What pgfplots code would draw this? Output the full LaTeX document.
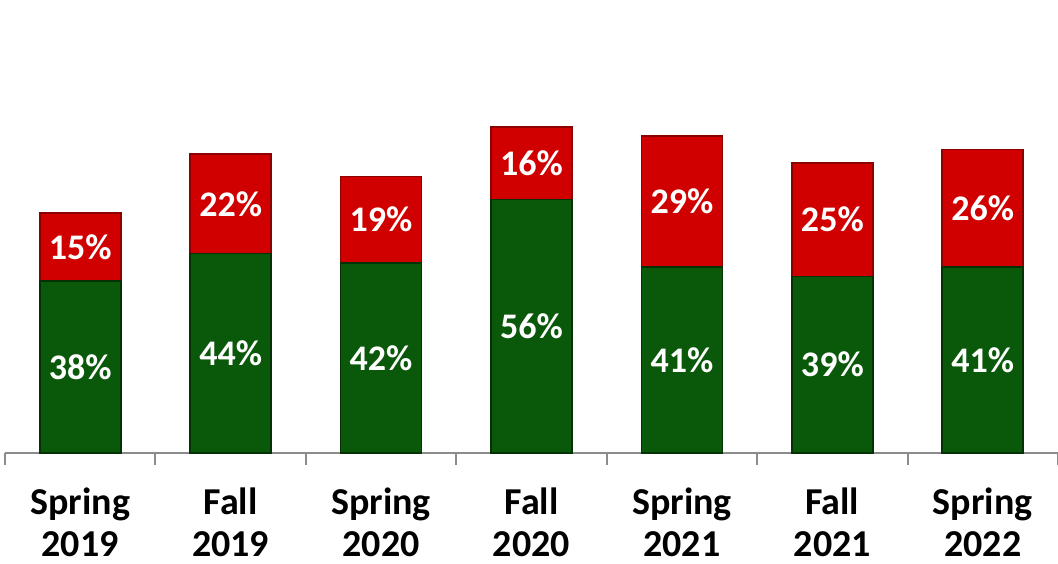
\documentclass[border=0pt]{standalone}
\usepackage{pgfplots}
\pgfplotsset{compat=1.18}
\usepackage{pgfplotstable}
\usepackage{fontspec}
\setmainfont{Carlito}
\definecolor{barred}{RGB}{208,0,0}
\definecolor{barreddark}{RGB}{140,0,0}
\definecolor{bargreen}{RGB}{10,88,10}
\definecolor{bargreendark}{RGB}{4,50,4}
\definecolor{axgray}{RGB}{140,140,140}
\pgfplotstableread{
x g r
0 38 15
1 44 22
2 42 19
3 56 16
4 41 29
5 39 25
6 41 26
}\datatable
\begin{document}
\begin{tikzpicture}
\begin{axis}[
  scale only axis, width=526.5pt, height=226.5pt,
  ybar stacked, bar width=40.5pt,
  xmin=-0.5, xmax=6.5, ymin=0, ymax=100,
  axis x line*=bottom, axis y line=none,
  x axis line style={axgray, line width=1pt},
  xtick={0,...,6},
  xticklabels={{Spring\\2019},{Fall\\2019},{Spring\\2020},{Fall\\2020},{Spring\\2021},{Fall\\2021},{Spring\\2022}},
  major x tick style={draw=none},
  minor xtick={-0.5,0.5,...,6.5},
  minor tick length=6pt,
  minor x tick style={axgray, line width=1pt},
  tick align=outside,
  xticklabel style={font=\bfseries\fontsize{19}{20.8}\selectfont, align=center, inner sep=0pt, yshift=-13pt},
  clip=false,
  nodes near coords={\pgfplotspointmeta\%},
  point meta=explicit symbolic,
  every node near coord/.append style={font=\bfseries\fontsize{18}{20}\selectfont, text=white, anchor=center},
]
\addplot[fill=bargreen, draw=bargreendark, line width=0.8pt]
  table[x=x, y=g, meta=g] {\datatable};
\addplot[fill=barred, draw=barreddark, line width=0.8pt]
  table[x=x, y=r, meta=r] {\datatable};
\end{axis}
\pgfresetboundingbox
\useasboundingbox (-2.5pt,-55pt) rectangle (526.5pt,226.5pt);
\end{tikzpicture}
\end{document}
